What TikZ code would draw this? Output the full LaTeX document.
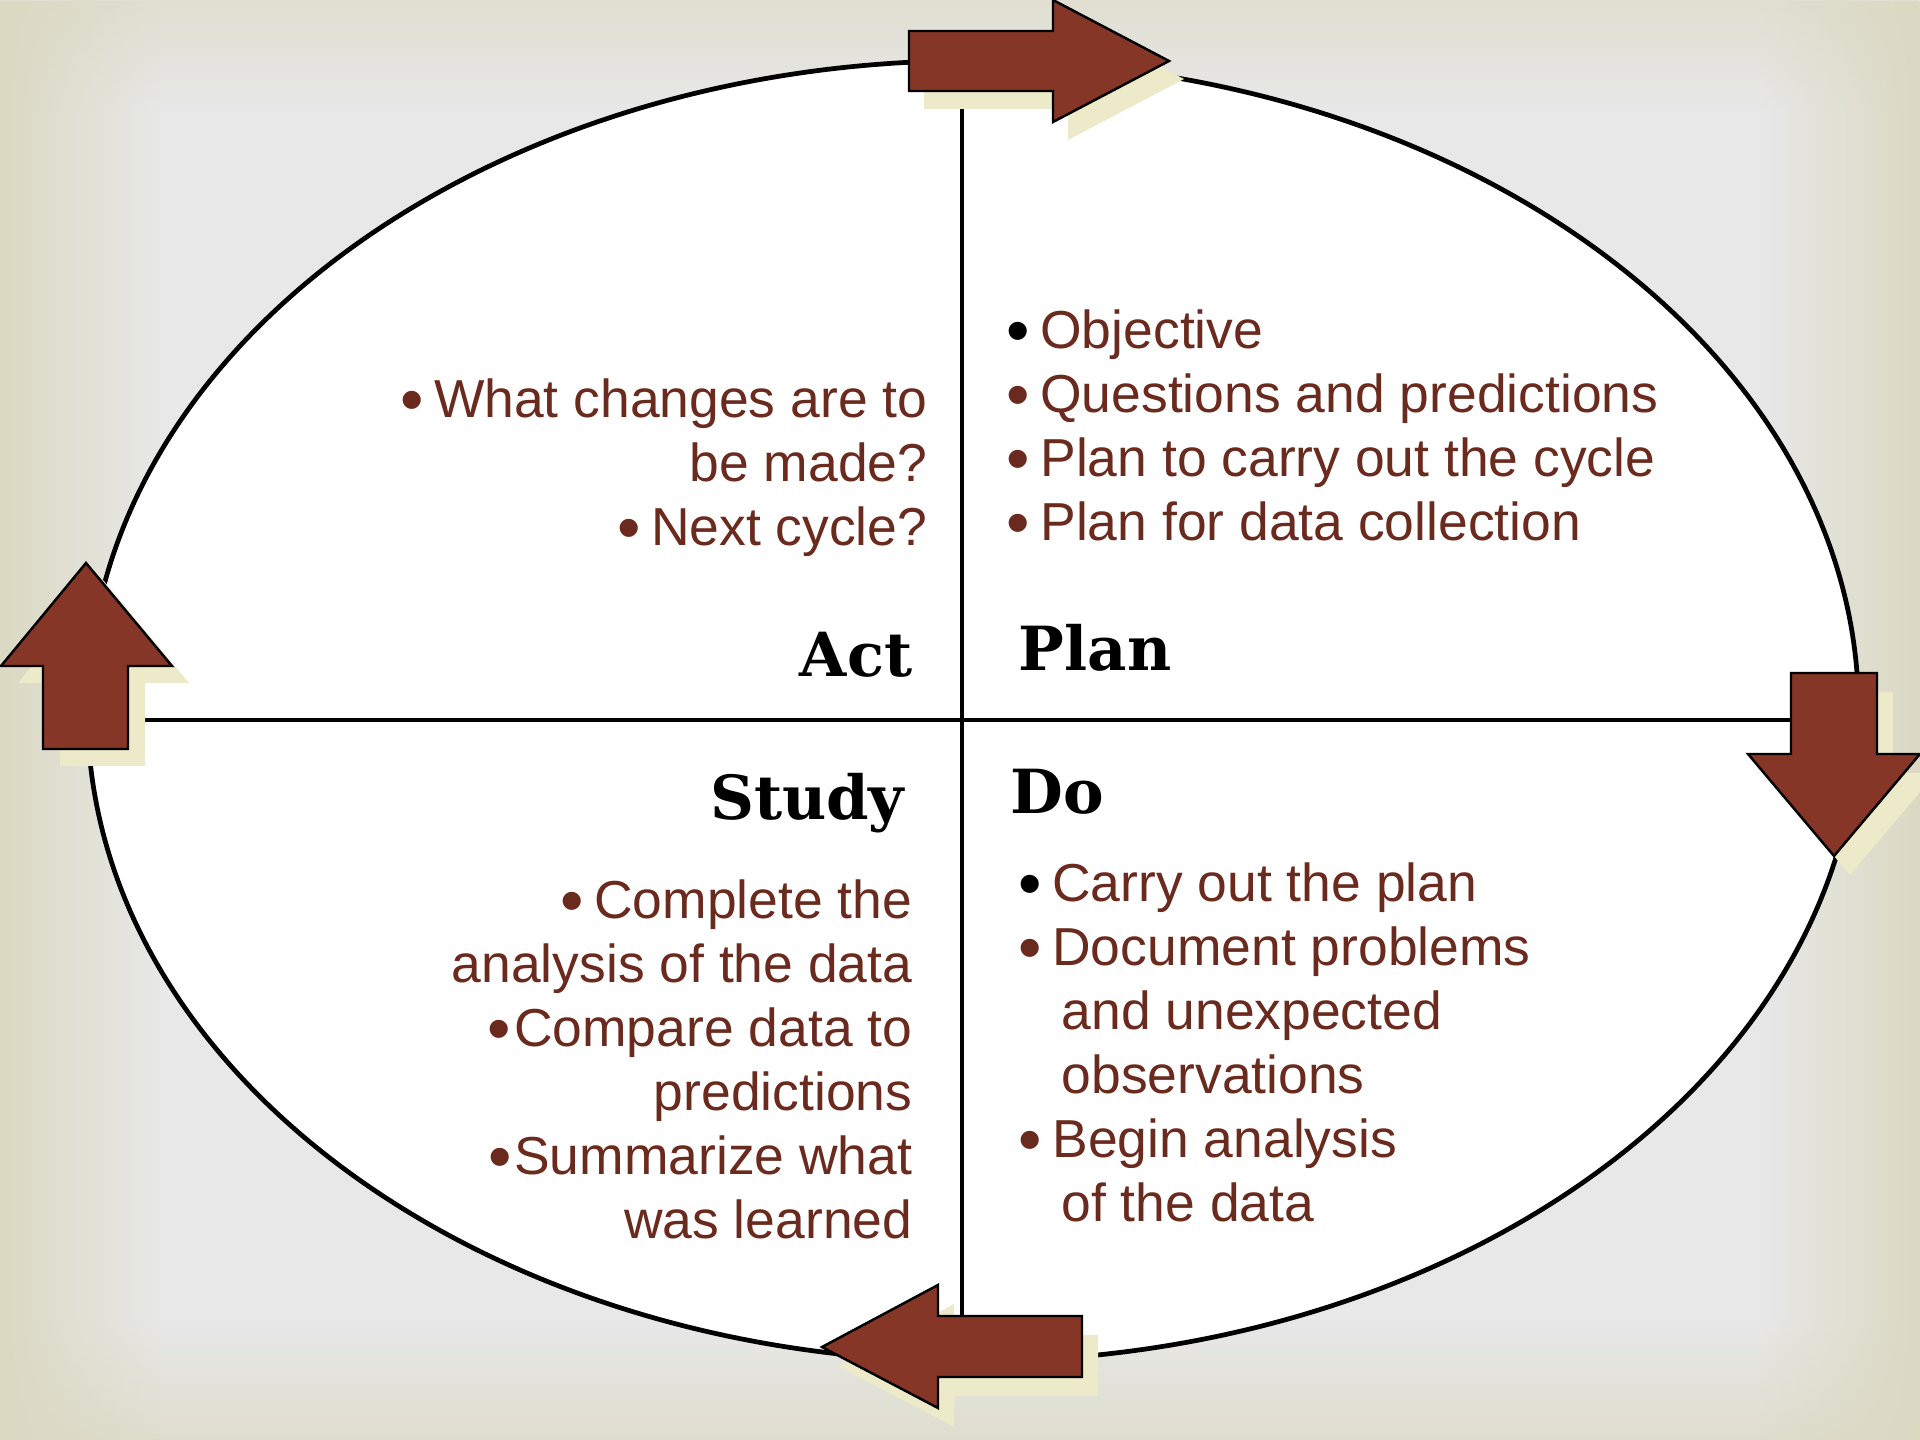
\documentclass[tikz,border=0pt]{standalone}
\usepackage{fontspec}
\setmainfont{Liberation Sans}
\newfontfamily\headserif{DejaVu Serif}
\usepackage{tikz}
\usetikzlibrary{fadings}

\definecolor{txtbrown}{RGB}{107,42,30}
\definecolor{arrbrown}{RGB}{133,54,38}
\definecolor{shadbeige}{RGB}{236,234,200}
\definecolor{bggray}{RGB}{232,232,232}
\definecolor{bgbeige}{RGB}{219,217,194}

% bullet dot and bullet with its gap
\newcommand{\blt}{\makebox[0.45em][l]{\raisebox{-0.08em}{\scalebox{1.25}[1.25]{•}}}}
\newcommand{\bltsp}{\blt\hspace{0.18em}}

\begin{document}
\begin{tikzpicture}[x=0.01cm,y=-0.01cm]

	\tikzset{item/.style = {font=\fontsize{15.2}{18.2}\selectfont, text=txtbrown, inner sep=0pt}}
	\tikzset{phase/.style = {font=\headserif\bfseries\fontsize{17.3}{20}\selectfont, inner sep=0pt}}
	\tikzset{turn/.style = {draw=black, line width=0.7pt, fill=arrbrown, line join=miter}}
	\tikzset{turnshadow/.style = {fill=shadbeige}}
	\tikzset{divider/.style = {line width=1.3pt}}

	% page and background
	\clip (0,0) rectangle (1920,1440);
	\fill[bggray] (0,0) rectangle (1920,1440);
	\fill[bgbeige, path fading=south, opacity=0.6] (0,0) rectangle (1920,110);
	\fill[bgbeige, path fading=north, opacity=0.7] (0,1320) rectangle (1920,1440);
	\fill[bgbeige, path fading=east] (0,0) rectangle (160,1440);
	\fill[bgbeige, path fading=west] (1760,0) rectangle (1920,1440);

	% the cycle
	\draw[fill=white, line width=1.35pt] (973,711) ellipse [x radius=8.85cm, y radius=6.5cm];

	\coordinate (vtop) at (962,91);
	\coordinate (vbot) at (962,1316);
	\coordinate (hleft) at (128,720);
	\coordinate (hright) at (1791,720);
	\draw[divider] (vtop) -- (vbot);
	\draw[divider] (hleft) -- (hright);

	% quadrant headings
	\node[phase, anchor=base west] (plan) at (1018,671) {Plan};
	\node[phase, anchor=base east] (act) at (913,677) {Act};
	\node[phase, anchor=base east] (study) at (905,820) {Study};
	\node[phase, anchor=base west] (do) at (1010,814) {Do};

	% quadrant texts (base = last line)
	\node[item, anchor=base west, align=left] (plantext) at (1006,541)
		{{\color{black}\blt}\hspace{0.18em}Objective\\\bltsp Questions and predictions\\\bltsp Plan to carry out the cycle\\\bltsp Plan for data collection};
	\node[item, anchor=base east, align=right] (acttext) at (928,546)
		{\bltsp What changes are to\\be made?\\\bltsp Next cycle?};
	\node[item, anchor=base east, align=right] (studytext) at (913,1239)
		{\bltsp Complete the\\analysis of the data\\\blt\hspace{0.04em}Compare data to\\predictions\\\blt\hspace{0.04em}Summarize what\\was learned};
	\node[item, anchor=base west, align=left] (dotext) at (1018,1222)
		{{\color{black}\blt}\hspace{0.18em}Carry out the plan\\\bltsp Document problems\\\hspace{12.2pt}and unexpected\\\hspace{12.2pt}observations\\\bltsp Begin analysis\\\hspace{12.2pt}of the data};

	% arrows round the cycle
	\fill[turnshadow, shift={(15,18)}] (909,31) -- (1053,31) -- (1053,0) -- (1169,61) -- (1053,122) -- (1053,91) -- (909,91) -- cycle;
	\draw[turn] (909,31) -- (1053,31) -- (1053,0) -- (1169,61) -- (1053,122) -- (1053,91) -- (909,91) -- cycle;

	\fill[turnshadow, shift={(16,19)}] (1791,673) -- (1877,673) -- (1877,754) -- (1920,754) -- (1834,856) -- (1748,754) -- (1791,754) -- cycle;
	\draw[turn] (1791,673) -- (1877,673) -- (1877,754) -- (1920,754) -- (1834,856) -- (1748,754) -- (1791,754) -- cycle;

	\fill[turnshadow, shift={(16,19)}] (1082,1316) -- (938,1316) -- (938,1285) -- (822,1347) -- (938,1408) -- (938,1377) -- (1082,1377) -- cycle;
	\draw[turn] (1082,1316) -- (938,1316) -- (938,1285) -- (822,1347) -- (938,1408) -- (938,1377) -- (1082,1377) -- cycle;

	\fill[turnshadow, shift={(17,17)}] (43,749) -- (43,666) -- (1,666) -- (86,563) -- (172,666) -- (128,666) -- (128,749) -- cycle;
	\draw[turn] (43,749) -- (43,666) -- (1,666) -- (86,563) -- (172,666) -- (128,666) -- (128,749) -- cycle;

\end{tikzpicture}
\end{document}
